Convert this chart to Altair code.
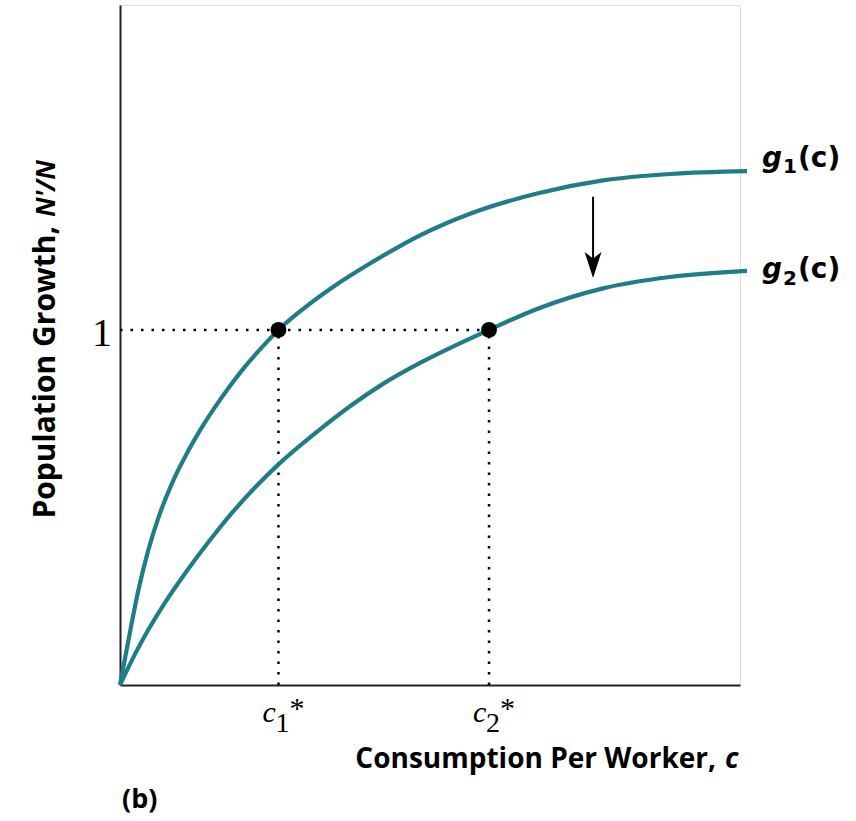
import altair as alt
import pandas as pd

# ---- data ----
g1_x = [0.0, 0.161, 0.290, 0.452, 0.613, 0.839, 1.097, 1.290, 1.613, 1.935, 2.258, 2.556,
        2.903, 3.435, 3.984, 4.516, 4.839, 5.645, 6.726, 7.790, 8.871, 10.113]
g1_y = [0.0, 0.149, 0.262, 0.377, 0.468, 0.568, 0.658, 0.717, 0.803, 0.879, 0.945, 1.0,
        1.052, 1.121, 1.182, 1.236, 1.266, 1.327, 1.384, 1.421, 1.439, 1.447]
g2_x = [0.0, 0.242, 0.452, 0.726, 1.0, 1.258, 1.532, 1.823, 2.177, 2.548, 3.226, 3.710,
        4.242, 4.839, 5.952, 6.726, 7.790, 8.871, 10.113]
g2_y = [0.0, 0.087, 0.154, 0.232, 0.302, 0.364, 0.426, 0.488, 0.556, 0.620, 0.720, 0.785,
        0.848, 0.907, 1.0, 1.059, 1.117, 1.149, 1.166]

c_star = [2.556, 5.952]          # c1*, c2*
steady_y = 1.0
arrow_x = 7.63
arrow_top = 1.375
arrow_bottom = 1.197
arrow_head = 1.183

X_MAX = 10.0
Y_MAX = 1.915

TEAL = "#1f7d87"
SANS = "Open Sans"
LSANS = "DejaVu Sans"
SERIF = "Liberation Serif"

curves = pd.DataFrame(
    {"x": g1_x + g2_x,
     "y": g1_y + g2_y,
     "curve": ["g1"] * len(g1_x) + ["g2"] * len(g2_x)}
)
pts = pd.DataFrame({"x": c_star, "y": [steady_y] * 2})
hline = pd.DataFrame({"x": [0.0], "x2": [c_star[1]], "y": [steady_y]})
vlines = pd.DataFrame({"x": c_star, "y": [0.0, 0.0], "y2": [steady_y] * 2})
arrow = pd.DataFrame({"x": [arrow_x], "y": [arrow_top], "y2": [arrow_bottom], "yh": [arrow_head]})
ends = pd.DataFrame({"x": [g1_x[-1], g2_x[-1]], "y": [g1_y[-1], g2_y[-1]],
                     "g": ["g", "g"], "sub": ["1", "2"], "arg": ["(c)", "(c)"]})
cl = pd.DataFrame({"x": c_star, "c": ["c", "c"], "sub": ["1", "2"], "star": ["*", "*"]})
onelab = pd.DataFrame({"x": [0.0], "y": [steady_y], "t": ["1"]})

xs = alt.Scale(domain=[0, X_MAX], nice=False, zero=True)
ys = alt.Scale(domain=[0, Y_MAX], nice=False, zero=True)
xax = alt.Axis(labels=False, ticks=False, grid=False, title=None, domainColor="#222", domainWidth=2)
yax = alt.Axis(labels=False, ticks=False, grid=False, title=None, domainColor="#222", domainWidth=2)


def X(f="x"):
    return alt.X(f, type="quantitative", scale=xs, axis=xax)


def Y(f="y"):
    return alt.Y(f, type="quantitative", scale=ys, axis=yax)


lines = alt.Chart(curves).mark_line(color=TEAL, strokeWidth=4.2, interpolate="monotone", clip=False).encode(
    x=X(), y=Y(), detail="curve:N", order="x:Q")

dot = dict(color="black", strokeWidth=2.5, strokeDash=[2.5, 8])
h = alt.Chart(hline).mark_rule(**dot).encode(x=X(), x2="x2:Q", y=Y())
v = alt.Chart(vlines).mark_rule(**dot).encode(x=X(), y=Y(), y2="y2:Q")
points = alt.Chart(pts).mark_point(filled=True, color="black", size=250, opacity=1).encode(x=X(), y=Y())

arrow_shaft = alt.Chart(arrow).mark_rule(color="black", strokeWidth=2).encode(x=X(), y=Y(), y2="y2:Q")
arrow_tip = alt.Chart(arrow).mark_point(
    shape="M0,1 L-0.65,-1 L0,-0.5 L0.65,-1 Z", filled=True, color="black", size=676, opacity=1
).encode(x=X(), y=Y("yh"))


def glabel(i, dy_main, dy_sub):
    d = ends.iloc[[i]]
    base = alt.Chart(d)
    g = base.mark_text(font=LSANS, fontSize=28, fontWeight="bold", fontStyle="italic",
                       align="left", baseline="alphabetic", dx=15, dy=dy_main).encode(x=X(), y=Y(), text="g:N")
    s = base.mark_text(font=LSANS, fontSize=20, fontWeight="bold",
                       align="left", baseline="alphabetic", dx=36, dy=dy_sub).encode(x=X(), y=Y(), text="sub:N")
    a = base.mark_text(font=LSANS, fontSize=28, fontWeight="bold",
                       align="left", baseline="alphabetic", dx=51, dy=dy_main).encode(x=X(), y=Y(), text="arg:N")
    return g + s + a


gl1 = glabel(0, -4, 2)
gl2 = glabel(1, 7, 14)

# c1*, c2* labels
c_main = alt.Chart(cl).mark_text(font=SERIF, fontSize=30, fontStyle="italic", align="left",
                                 baseline="alphabetic", dx=-16).encode(x=X(), y=alt.value(717), text="c:N")
c_sub = alt.Chart(cl).mark_text(font=SERIF, fontSize=28, align="left",
                                baseline="alphabetic", dx=-3).encode(x=X(), y=alt.value(727), text="sub:N")
c_star_t = alt.Chart(cl).mark_text(font=SERIF, fontSize=30, align="left",
                                   baseline="alphabetic", dx=11).encode(x=X(), y=alt.value(713), text="star:N")

one = alt.Chart(onelab).mark_text(font=SERIF, fontSize=40, align="right", baseline="alphabetic",
                                  dx=-8, dy=16).encode(x=X(), y=Y(), text="t:N")

# axis titles and panel letter (outside the plot area)
tdf = pd.DataFrame({"a": [0]})
xt1 = alt.Chart(tdf).mark_text(text="Consumption Per Worker,", font=SANS, fontSize=28, fontWeight="bold",
                               align="right", baseline="alphabetic").encode(x=alt.value(596), y=alt.value(763))
xt2 = alt.Chart(tdf).mark_text(text="c", font=SANS, fontSize=28, fontWeight="bold", fontStyle="italic",
                               align="left", baseline="alphabetic").encode(x=alt.value(605), y=alt.value(763))
yt1 = alt.Chart(tdf).mark_text(text="Population Growth,", font=SANS, fontSize=30, fontWeight="bold",
                               align="right", baseline="alphabetic", angle=270).encode(x=alt.value(-65), y=alt.value(221))
yt2 = alt.Chart(tdf).mark_text(text="N'/N", font=SANS, fontSize=26, fontWeight="bold", fontStyle="italic",
                               align="left", baseline="alphabetic", angle=270).encode(x=alt.value(-65), y=alt.value(212))
panel = alt.Chart(tdf).mark_text(text="(b)", font=SANS, fontSize=27, fontWeight="bold",
                                 align="left", baseline="alphabetic").encode(x=alt.value(2), y=alt.value(803))

chart = alt.layer(
    h, v, lines, points, arrow_shaft, arrow_tip, gl1, gl2, c_main, c_sub, c_star_t, one,
    xt1, xt2, yt1, yt2, panel
).properties(
    width=620, height=680,
    autosize=alt.AutoSizeParams(type="none"),
    padding={"left": 120, "top": 5, "right": 116, "bottom": 136},
).configure_view(stroke=None).configure(background="white")

chart.save("out.html", embed_options={"renderer": "svg", "actions": False})
